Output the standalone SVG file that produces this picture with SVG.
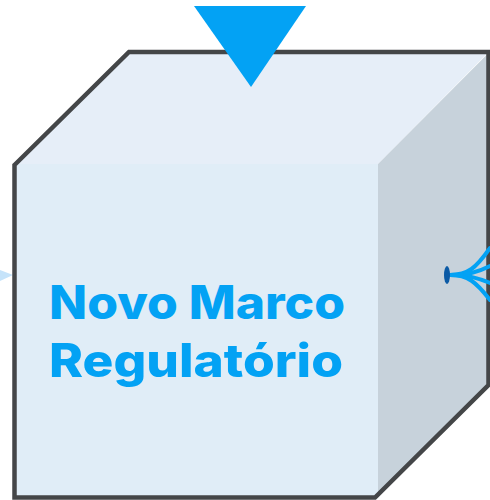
<svg xmlns="http://www.w3.org/2000/svg" width="490" height="500" viewBox="0 0 490 500">
<style>
.fan{fill:none;stroke:#03a2f4;stroke-width:4;stroke-linecap:round}
.label{font-family:"Inter","Liberation Sans",sans-serif;font-weight:800;font-size:46px;fill:#03a2f4;text-anchor:middle}
</style>
<g id="stray-arrow"><polygon points="0,270 13,275 0,281" fill="#c5e3fa"/></g>
<g id="cube">
<polygon points="14.5,165 129,52 488.5,52 378,164" fill="#e6eef8"/>
<polygon points="14.5,164 378,164 378,497.5 14.5,497.5" fill="#e0edf7"/>
<polygon points="378,164 488.5,53 488.5,385 378,497.5" fill="#c7d2db"/>
<polygon points="14.5,165 129,52 488.5,52 488.5,385 375,497.5 14.5,497.5" fill="none" stroke="#444648" stroke-width="4.5"/>
</g>
<g id="connectors">
<g class="fan">
<path d="M450,275 C468,275 476,268 490,248"/>
<path d="M450,275 C468,275 478,272 490,266"/>
<path d="M450,275 C468,275 478,278 490,283"/>
<path d="M450,275 C468,275 476,282 490,300"/>
</g>
<ellipse cx="447" cy="275" rx="3" ry="9" fill="#0b5aa5"/>
</g>
<g id="marker"><polygon points="194,6 306,6 251,87" fill="#03a2f4"/></g>
<g id="label">
<text class="label" x="197" y="319" textLength="296" lengthAdjust="spacingAndGlyphs">Novo Marco</text>
<text class="label" x="196" y="377" textLength="294" lengthAdjust="spacingAndGlyphs">Regulatório</text>
</g>
</svg>
